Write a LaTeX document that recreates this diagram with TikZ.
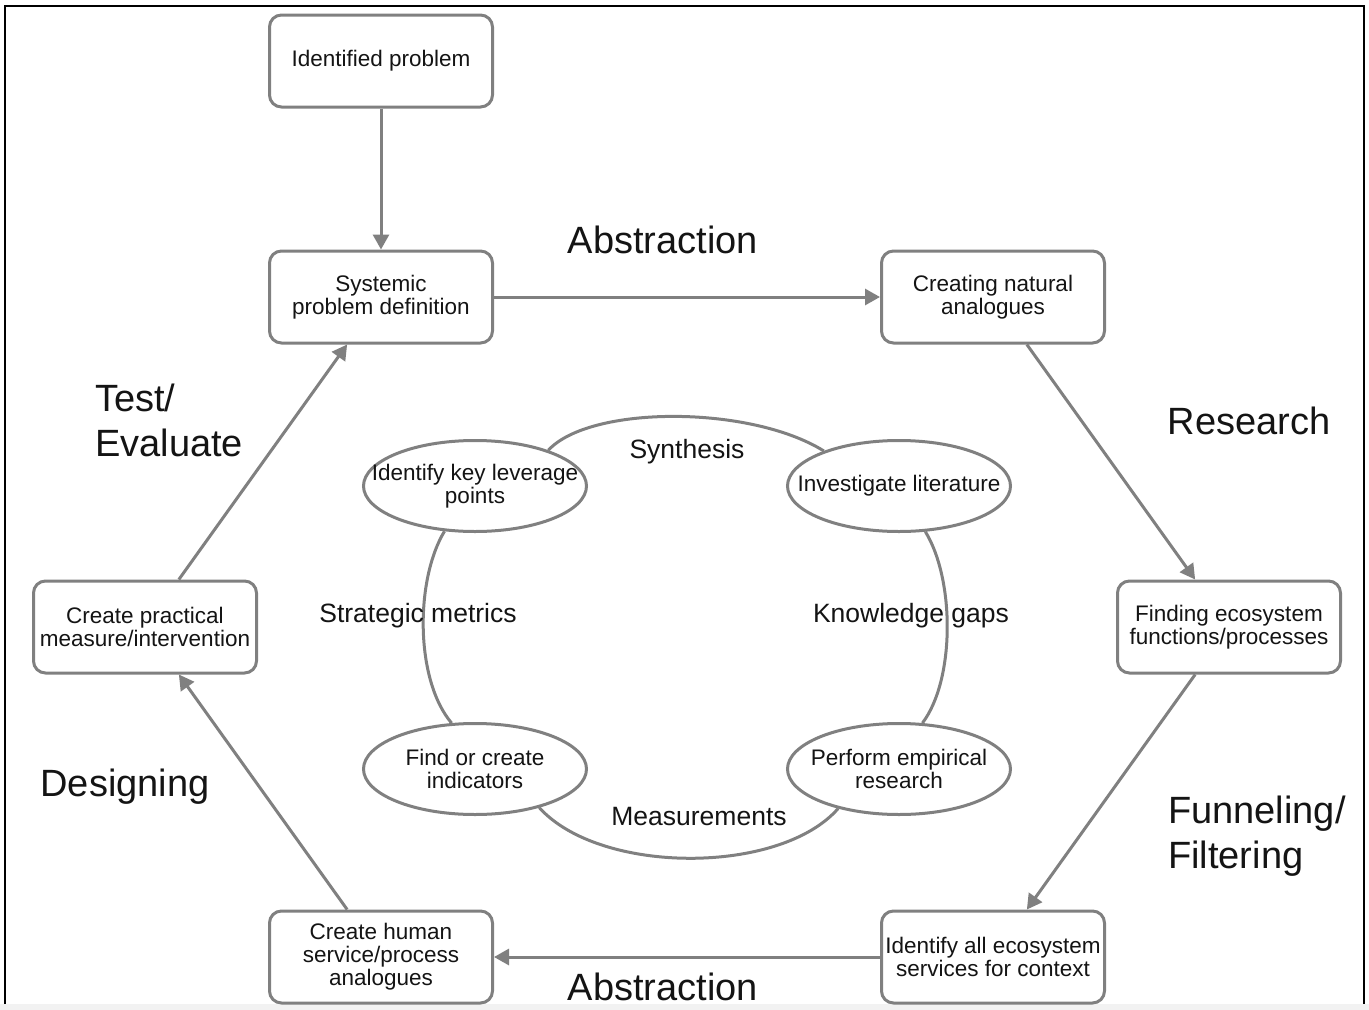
\documentclass[tikz,border=0pt]{standalone}
\usepackage{fontspec}
\setmainfont{Liberation Sans}
\usetikzlibrary{arrows.meta,shapes.geometric}
\definecolor{ln}{RGB}{128,128,128}
\definecolor{tx}{RGB}{20,20,20}
\begin{document}
\begin{tikzpicture}[x=1pt,y=-1pt,
  box/.style={draw=ln, line width=3pt, rounded corners=12pt, fill=white, minimum width=223pt, minimum height=92pt, inner sep=2pt, align=center, font=\fontsize{22.5}{23}\selectfont, text=tx},
  ell/.style={ellipse, draw=ln, line width=3pt, fill=white, minimum width=223pt, minimum height=91pt, inner sep=0pt},
  elltxt/.style={align=center, font=\fontsize{22.5}{23}\selectfont, text=tx, inner sep=0pt},
  arr/.style={draw=ln, line width=3pt, -{Triangle[length=15pt,width=16pt]}},
  cyc/.style={draw=ln, line width=3pt},
  big/.style={font=\fontsize{38}{45}\selectfont, text=tx, anchor=base, inner sep=0pt},
  mid/.style={font=\fontsize{26.5}{30}\selectfont, text=tx, anchor=base, inner sep=0pt},
]
\useasboundingbox (0,0) rectangle (1369,1010);
\fill[white] (0,0) rectangle (1369,1010);
\fill[gray!10] (0,1004) rectangle (1369,1010);
\draw[black, line width=2pt] (5,1004) -- (5,6) -- (1364,6) -- (1364,1004);

% boxes
\node[box] (p0) at (381,61) {Identified problem};
\node[box] (p1) at (381,297) {Systemic\\problem definition};
\node[box] (p2) at (993,297) {Creating natural\\analogues};
\node[box] (p3) at (1229,627) {Finding ecosystem\\functions/processes};
\node[box] (p4) at (993,957) {Identify all ecosystem\\services for context};
\node[box] (p5) at (381,957) {Create human\\service/process\\analogues};
\node[box] (p6) at (145,627) {Create practical\\measure/intervention};

% arrows
\draw[arr] (p0) -- (p1);
\draw[arr] (p1) -- (p2);
\draw[arr] (p2) -- (p3);
\draw[arr] (p3) -- (p4);
\draw[arr] (p4) -- (p5);
\draw[arr] (p5) -- (p6);
\draw[arr] (p6) -- (p1);

% ellipses
\node[ell] (e1) at (475,486) {};
\node[ell] (e2) at (899,486) {};
\node[ell] (e3) at (475,769) {};
\node[ell] (e4) at (899,769) {};
\node[elltxt] at (e1) {Identify key leverage\\points};
\node[elltxt] at (e2) {Investigate literature};
\node[elltxt] at (e3) {Find or create\\indicators};
\node[elltxt] at (e4) {Perform empirical\\research};

% cycle arcs
\draw[cyc] (e1.26) .. controls (590,405) and (750,405) .. (e2.155);
\draw[cyc] (e1.236) .. controls (415,580) and (415,680) .. (e3.117);
\draw[cyc] (e2.300) .. controls (955,580) and (955,680) .. (e4.63);
\draw[cyc] (e3.329) .. controls (600,875) and (780,875) .. (e4.213);

% cycle labels
\node[mid] (lsyn) at (687,458) {Synthesis};
\node[mid] (lstr) at (418,622) {Strategic metrics};
\node[mid] (lkno) at (911,622) {Knowledge gaps};
\node[mid] (lmea) at (699,825) {Measurements};

% phase labels
\node[big] (labs1) at (663,253) {Abstraction};
\node[big] (lres) at (1249,434) {Research};
\node[big, anchor=base west] (ltest) at (95,411) {Test/};
\node[big, anchor=base west] (leval) at (95,456) {Evaluate};
\node[big] (ldes) at (125,796) {Designing};
\node[big, anchor=base west] (lfun) at (1168,823) {Funneling/};
\node[big, anchor=base west] (lfil) at (1168,868) {Filtering};
\node[big] (labs2) at (663,1000) {Abstraction};
\end{tikzpicture}
\end{document}
